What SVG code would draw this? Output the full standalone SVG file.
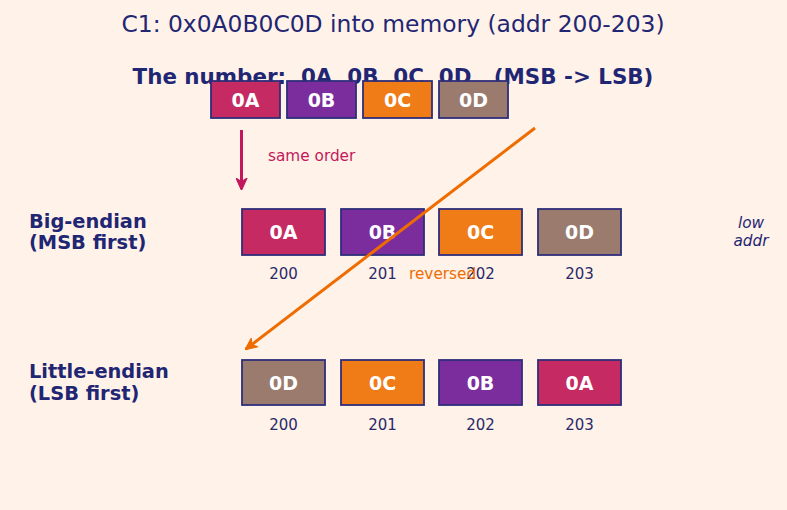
<svg xmlns="http://www.w3.org/2000/svg" width="787" height="510" viewBox="0 0 787 510">
<style>
text{font-family:"DejaVu Sans","Liberation Sans",sans-serif}
.title{font-size:23.4px;fill:#1f2673;text-anchor:middle}
.sub{font-size:21.4px;font-weight:bold;fill:#1f2673;text-anchor:middle;white-space:pre}
.box rect{stroke:#2e2e7a;stroke-width:1.8}
.bt{font-size:19px;font-weight:bold;fill:#fff;text-anchor:middle}
.addr{font-size:15px;fill:#2a2a6a;text-anchor:middle}
.lbl{font-size:19.4px;font-weight:bold;fill:#1f2673}
.a{fill:#c62a62}.b{fill:#7b2d9e}.c{fill:#f07c18}.d{fill:#9a7b6e}
</style>
<defs>
<marker id="mr" viewBox="0 0 10 10" refX="9" refY="5" markerWidth="4" markerHeight="4" orient="auto"><path d="M0,0.5 L10,5 L0,9.5 L3,5 Z" fill="#c2185b" stroke="#c2185b" stroke-width="1" stroke-linejoin="round"/></marker>
<marker id="mo" viewBox="0 0 10 10" refX="9" refY="5" markerWidth="4" markerHeight="4" orient="auto"><path d="M0,0.5 L10,5 L0,9.5 L3,5 Z" fill="#ef6c00" stroke="#ef6c00" stroke-width="1" stroke-linejoin="round"/></marker>
</defs>
<rect width="787" height="510" fill="#fff2e8"/>
<text class="title" x="393" y="32">C1: 0x0A0B0C0D into memory (addr 200-203)</text>
<text class="sub" x="393" y="84" xml:space="preserve">The number:  0A  0B  0C  0D   (MSB -&gt; LSB)</text>

<g id="top-bytes">
<g id="t0A" class="box"><rect class="a" x="211" y="81" width="69" height="37"/><text class="bt" x="245.5" y="106.5">0A</text></g>
<g id="t0B" class="box"><rect class="b" x="287" y="81" width="69" height="37"/><text class="bt" x="321.5" y="106.5">0B</text></g>
<g id="t0C" class="box"><rect class="c" x="363" y="81" width="69" height="37"/><text class="bt" x="397.5" y="106.5">0C</text></g>
<g id="t0D" class="box"><rect class="d" x="439" y="81" width="69" height="37"/><text class="bt" x="473.5" y="106.5">0D</text></g>
</g>

<g id="big-label"><text class="lbl" x="29" y="228">Big-endian</text><text class="lbl" x="29" y="249">(MSB first)</text></g>
<g id="big-0A" class="box"><rect class="a" x="242" y="209" width="83" height="46"/><text class="bt" x="283.5" y="238.5">0A</text><text class="addr" x="283.5" y="278.5">200</text></g>
<g id="big-0B" class="box"><rect class="b" x="341" y="209" width="83" height="46"/><text class="bt" x="382.5" y="238.5">0B</text><text class="addr" x="382.5" y="278.5">201</text></g>
<g id="big-0C" class="box"><rect class="c" x="439" y="209" width="83" height="46"/><text class="bt" x="480.5" y="238.5">0C</text><text class="addr" x="480.5" y="278.5">202</text></g>
<g id="big-0D" class="box"><rect class="d" x="538" y="209" width="83" height="46"/><text class="bt" x="579.5" y="238.5">0D</text><text class="addr" x="579.5" y="278.5">203</text></g>
<g id="low-addr"><text x="751" y="228" font-size="15.3" font-style="italic" fill="#1f2673" text-anchor="middle">low</text><text x="751" y="246" font-size="15.3" font-style="italic" fill="#1f2673" text-anchor="middle">addr</text></g>

<g id="little-label"><text class="lbl" x="29" y="378">Little-endian</text><text class="lbl" x="29" y="400">(LSB first)</text></g>
<g id="lit-0D" class="box"><rect class="d" x="242" y="360" width="83" height="45"/><text class="bt" x="283.5" y="389.5">0D</text><text class="addr" x="283.5" y="429.5">200</text></g>
<g id="lit-0C" class="box"><rect class="c" x="341" y="360" width="83" height="45"/><text class="bt" x="382.5" y="389.5">0C</text><text class="addr" x="382.5" y="429.5">201</text></g>
<g id="lit-0B" class="box"><rect class="b" x="439" y="360" width="83" height="45"/><text class="bt" x="480.5" y="389.5">0B</text><text class="addr" x="480.5" y="429.5">202</text></g>
<g id="lit-0A" class="box"><rect class="a" x="538" y="360" width="83" height="45"/><text class="bt" x="579.5" y="389.5">0A</text><text class="addr" x="579.5" y="429.5">203</text></g>

<g id="connectors">
<line x1="241.5" y1="130" x2="241.5" y2="189" stroke="#c2185b" stroke-width="3" marker-end="url(#mr)"/>
<text x="268" y="161" font-size="15.3" fill="#c2185b">same order</text>
<line x1="535" y1="128" x2="246" y2="349" stroke="#ef6c00" stroke-width="3" marker-end="url(#mo)"/>
<text x="409" y="278.5" font-size="15.3" fill="#ef6c00">reversed</text>
</g>
</svg>
